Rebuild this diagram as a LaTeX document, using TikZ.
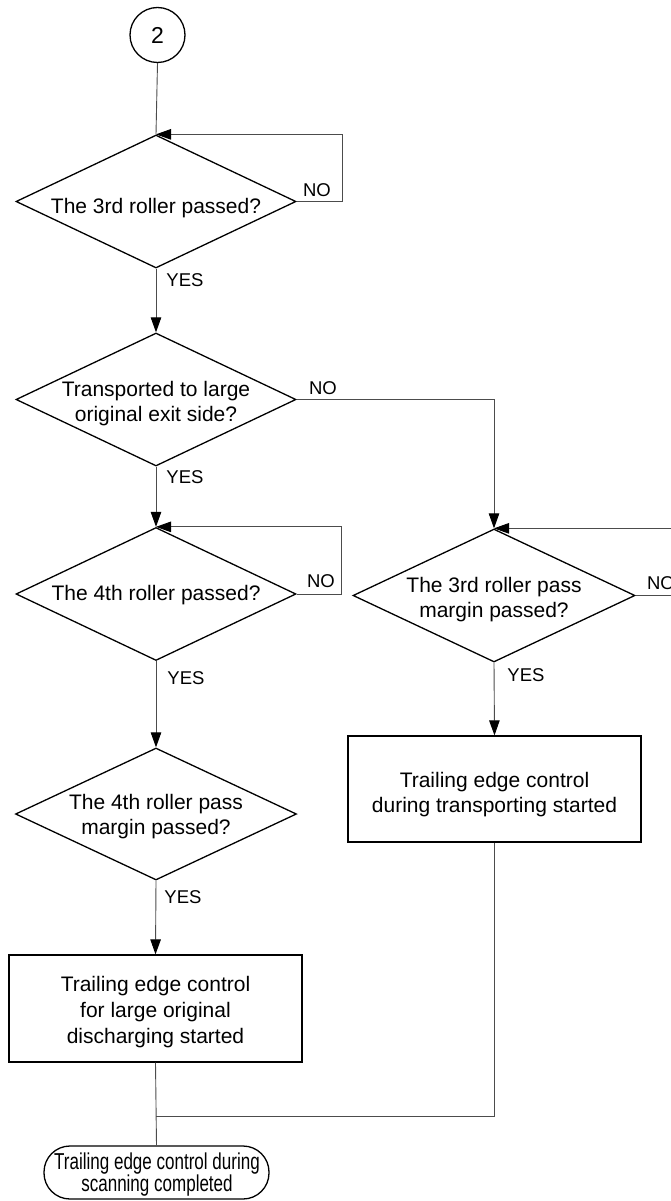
\documentclass[tikz,border=0pt]{standalone}
\usepackage{fontspec}
\setmainfont{Liberation Sans}
\newfontfamily\condfont[FakeStretch=0.74]{Liberation Sans}
\usetikzlibrary{shapes.geometric,arrows.meta}
\begin{document}
\begin{tikzpicture}[x=1pt,y=-1pt,
  shp/.style={draw=black,line width=1.3pt},
  dia/.style={shp,diamond,inner sep=0pt,minimum width=280pt,minimum height=133pt},
  boxn/.style={shp,rectangle,inner sep=0pt,minimum width=293pt,minimum height=106pt},
  txt/.style={font=\fontsize{21}{25}\selectfont,align=center,inner sep=0pt},
  lbl/.style={font=\fontsize{18.5}{20}\selectfont,inner sep=0pt},
  conn/.style={draw=black!70,line width=0.9pt},
  arr/.style={conn,-{Triangle[length=15pt,width=10.5pt,color=black]}},
]
\useasboundingbox (0,0) rectangle (671,1201);

% start connector
\node[shp,circle,minimum size=55pt,inner sep=0pt,font=\fontsize{23}{25}\selectfont] (c2) at (157.5,35) {2};

% decisions
\node[dia] (d1) at (156,201.5) {};
\node[txt] (d1t) at (156,208) {The 3rd roller passed?};

\node[dia] (d2) at (156,399.5) {};
\node[txt] (d2t) at (156,404) {Transported to large\\original exit side?};

\node[dia] (d3) at (156,594) {};
\node[txt] (d3t) at (156,595) {The 4th roller passed?};

\node[dia,minimum width=282pt] (d4) at (494,595.5) {};
\node[txt] (d4t) at (494,600) {The 3rd roller pass\\margin passed?};

\node[dia,minimum width=281pt,minimum height=132pt] (d5) at (156,814) {};
\node[txt] (d5t) at (156,817) {The 4th roller pass\\margin passed?};

% processes
\node[boxn] (b2) at (494.5,789) {};
\node[txt] (b2t) at (494.5,795) {Trailing edge control\\during transporting started};

\node[boxn,minimum height=107pt] (b1) at (155.5,1008.5) {};
\node[txt,font=\fontsize{21}{26}\selectfont] (b1t) at (155.5,1012) {Trailing edge control\\for large original\\discharging started};

% terminal
\node[shp,rectangle,rounded corners=26pt,minimum width=225pt,minimum height=53pt,inner sep=0pt] (term) at (156.5,1172.5) {};
\node[txt,font=\condfont\fontsize{23}{22}\selectfont] (termt) at (157,1175) {Trailing edge control during\\scanning completed};

% connectors
\draw[conn] (c2.south) -- (d1.north);
\draw[arr] (d1.east) -- ++(46,0) |- (d1.north);
\draw[arr] (d1.south) -- (d2.north);
\draw[arr] (d2.east) -| (d4.north);
\draw[arr] (d2.south) -- (d3.north);
\draw[arr] (d3.east) -- ++(45,0) |- (d3.north);
\draw[arr] (d4.east) -- ++(50,0) |- (d4.north);
\draw[arr] (d4.south) -- (b2.north);
\draw[arr] (d3.south) -- (d5.north);
\draw[arr] (d5.south) -- (b1.north);
\draw[conn] (b1.south) -- (term.north);
\coordinate (m) at (156,1116);
\draw[conn] (b2.south) |- (m);

% labels
\node[lbl] (n1) at (317,190) {NO};
\node[lbl] (y1) at (185,280) {YES};
\node[lbl] (n2) at (323,388) {NO};
\node[lbl] (y2) at (185,477) {YES};
\node[lbl] (n3) at (321,581) {NO};
\node[lbl] (y3) at (186,678) {YES};
\node[lbl] (n4) at (661,583) {NO};
\node[lbl] (y4) at (526,675) {YES};
\node[lbl] (y5) at (183,897) {YES};
\end{tikzpicture}
\end{document}
